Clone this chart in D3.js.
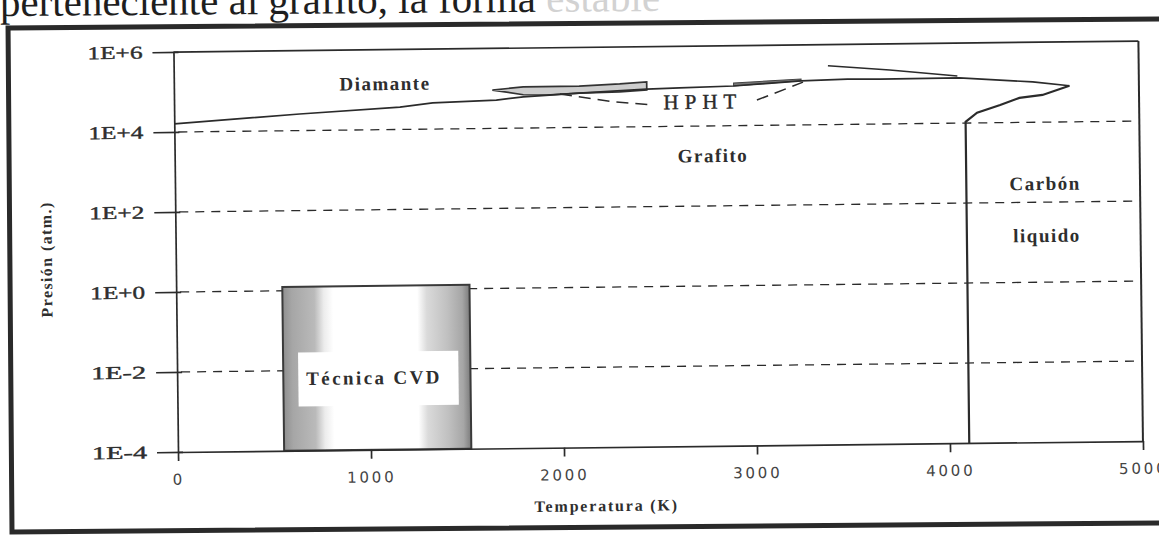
<!DOCTYPE html>
<html>
<head>
<meta charset="utf-8">
<script src="https://cdn.jsdelivr.net/npm/d3@7"></script>
<style>
    body { margin: 0; background: #fff; overflow: hidden; }
</style>
</head>
<body>
<svg id="chart" width="1159" height="538" font-family="'Liberation Serif', 'Times New Roman', serif"></svg>
<script>
// Axis values
const xTicks = [0, 1000, 2000, 3000, 4000, 5000];
const yTicks = [1e-4, 1e-2, 1, 1e2, 1e4, 1e6];
const yTickLabels = ['1E-4', '1E-2', '1E+0', '1E+2', '1E+4', '1E+6'];
const gridLevels = [1e-2, 1, 1e2, 1e4];

// Phase boundaries [T (K), P (atm)]
const equilibrium = [
    [0, 1.6e4], [650, 2.6e4], [1170, 3.6e4], [1340, 4.5e4], [1670, 5.1e4],
    [1810, 6.0e4], [2100, 7.2e4], [2450, 8.7e4], [2620, 9.1e4], [2900, 9.8e4],
    [3250, 1.26e5], [3490, 1.36e5], [3660, 1.33e5], [4070, 1.35e5],
    [4450, 1.02e5], [4640, 8.0e4]
];
const meltLine = [
    [4640, 8.0e4], [4500, 4.8e4], [4380, 4.1e4], [4280, 2.75e4],
    [4160, 1.8e4], [4100, 1.07e4], [4100, 1e-4]
];
const diamondMelt = [[3390, 2.95e5], [3710, 2.24e5], [4060, 1.51e5]];

// HPHT zone
const hphtBand = [
    [1650, 9.1e4], [1810, 1.07e5], [2100, 1.08e5], [2310, 1.19e5], [2450, 1.32e5],
    [2450, 8.3e4], [2310, 7.5e4], [2100, 7.2e4], [1930, 6.6e4], [1810, 6.8e4]
];
const hphtBand2 = [[2900, 1.17e5], [3250, 1.41e5], [3250, 1.26e5], [2900, 9.8e4]];
const hphtLimit = [[2000, 6.9e4], [2275, 4.3e4], [2480, 3.5e4], null, [3020, 4.3e4], [3260, 1.17e5]];

// CVD window
const cvdTemps = [550, 1520];
const cvdPressures = [1e-4, 1.25];

const regionLabels = [
    { text: 'Diamante', t: 1094, p: 1.25e5 },
    { text: 'Grafito', t: 2789, p: 1.6e3 },
    { text: 'Carbón', t: 4508, p: 2.6e2 },
    { text: 'liquido', t: 4515, p: 1.3e1 }
];

const svg = d3.select('#chart');
const ink = '#2b2b2b';

// Scanned page: cropped text line and frame (slightly tilted)
const page = svg.append('g').attr('transform', 'rotate(-0.45,13,531)');
page.append('text')
    .attr('x', 4).attr('y', 16)
    .attr('font-size', '41px')
    .attr('fill', '#1e1e1e')
    .html('perteneciente al grafito, la forma <tspan fill="#d2d2d2">estable</tspan>');
page.append('rect')
    .attr('x', 12).attr('y', 28)
    .attr('width', 1200).attr('height', 504)
    .attr('fill', 'none')
    .attr('stroke', '#2a2a2a')
    .attr('stroke-width', 5);

const root = svg.append('g').attr('transform', 'rotate(-0.65,178,452)');

const x = d3.scaleLinear().domain([0, 5000]).range([178, 1143]);
const y = d3.scaleLog().domain([1e-4, 1e6]).range([452, 52]);

// Dashed grid
root.append('g').selectAll('line')
    .data(gridLevels)
    .enter().append('line')
    .attr('x1', x(0) + 4).attr('x2', x(5000) - 8)
    .attr('y1', d => y(d)).attr('y2', d => y(d))
    .attr('stroke', ink)
    .attr('stroke-width', 1.3)
    .attr('stroke-dasharray', '9,7');

// CVD box
const defs = svg.append('defs');
const grad = defs.append('linearGradient').attr('id', 'cvdGrad');
[[0, '#8f8f8f'], [0.05, '#a6a6a6'], [0.17, '#bababa'], [0.22, '#ececec'], [0.27, '#fff'],
 [0.72, '#fff'], [0.77, '#dadada'], [0.88, '#c0c0c0'], [0.96, '#a6a6a6'], [1, '#7c7c7c']]
    .forEach(s => grad.append('stop').attr('offset', s[0]).attr('stop-color', s[1]));

const cx0 = x(cvdTemps[0]), cx1 = x(cvdTemps[1]);
root.append('rect')
    .attr('x', cx0)
    .attr('y', y(cvdPressures[1]))
    .attr('width', cx1 - cx0)
    .attr('height', y(cvdPressures[0]) - y(cvdPressures[1]))
    .attr('fill', 'url(#cvdGrad)')
    .attr('stroke', '#3a3a3a')
    .attr('stroke-width', 2);

const labelBox = root.append('rect').attr('fill', '#fff');
const cvdLabel = root.append('text')
    .attr('x', x(1020)).attr('y', y(5.6e-3))
    .attr('text-anchor', 'middle')
    .attr('dominant-baseline', 'middle')
    .attr('font-size', '19px')
    .attr('font-weight', 'bold')
    .attr('letter-spacing', '2.4px')
    .attr('fill', '#2e2e2e')
    .text('Técnica CVD');
const bb = cvdLabel.node().getBBox();
labelBox
    .attr('x', cx0 + 15).attr('y', bb.y + bb.height / 2 - 26)
    .attr('width', cx1 - cx0 - 27).attr('height', 54);

// Axes
const yAxis = root.append('g')
    .attr('transform', `translate(${x(0)},0)`)
    .call(d3.axisLeft(y)
        .tickValues(yTicks)
        .tickFormat((d, i) => yTickLabels[i])
        .tickSizeInner(21)
        .tickSizeOuter(0)
        .tickPadding(10));
yAxis.selectAll('.tick line').attr('x1', 5);
yAxis.selectAll('text')
    .style('font-family', "'Liberation Serif', serif")
    .style('font-size', '18px')
    .attr('textLength', 55)
    .attr('lengthAdjust', 'spacingAndGlyphs')
    .attr('fill', '#2e2e2e')
    .attr('stroke', '#2e2e2e')
    .attr('stroke-width', 0.4);

const xAxis = root.append('g')
    .attr('transform', `translate(0,${y(1e-4)})`)
    .call(d3.axisBottom(x)
        .tickValues(xTicks)
        .tickFormat(d3.format('d'))
        .tickSizeInner(9)
        .tickSizeOuter(0)
        .tickPadding(13));
xAxis.selectAll('text')
    .style('font-family', "'DejaVu Sans', Verdana, sans-serif")
    .style('font-size', '15px')
    .style('letter-spacing', '2.8px')
    .attr('fill', '#444');

root.selectAll('.domain, .tick line').attr('stroke', ink).attr('stroke-width', 1.7);

// Plot box top and right
root.append('line')
    .attr('x1', x(0)).attr('x2', x(5000))
    .attr('y1', y(1e6)).attr('y2', y(1e6))
    .attr('stroke', ink).attr('stroke-width', 1.7);
root.append('line')
    .attr('x1', x(5000)).attr('x2', x(5000))
    .attr('y1', y(1e6)).attr('y2', y(1e-4))
    .attr('stroke', ink).attr('stroke-width', 2);

// Phase lines
const line = d3.line()
    .defined(d => d !== null)
    .x(d => x(d[0]))
    .y(d => y(d[1]));

root.append('path')
    .datum(hphtBand)
    .attr('d', d => line(d) + 'Z')
    .attr('fill', '#cdcdcd')
    .attr('stroke', '#333')
    .attr('stroke-width', 1.7);
root.append('path')
    .datum(hphtBand2)
    .attr('d', d => line(d) + 'Z')
    .attr('fill', '#777')
    .attr('stroke', '#444')
    .attr('stroke-width', 1);

[[equilibrium, 1.7], [meltLine, 2.2], [diamondMelt, 1.5]].forEach(([pts, w]) => {
    root.append('path')
        .datum(pts)
        .attr('d', line)
        .attr('fill', 'none')
        .attr('stroke', ink)
        .attr('stroke-width', w);
});
root.append('path')
    .datum(hphtLimit)
    .attr('d', line)
    .attr('fill', 'none')
    .attr('stroke', ink)
    .attr('stroke-width', 1.5)
    .attr('stroke-dasharray', '12,7');

root.append('text')
    .attr('x', x(2740)).attr('y', y(3.55e4))
    .attr('text-anchor', 'middle')
    .attr('dominant-baseline', 'middle')
    .attr('font-size', '21px')
    .attr('letter-spacing', '6px')
    .attr('fill', '#2a2a2a')
    .attr('stroke', '#2a2a2a')
    .attr('stroke-width', 0.4)
    .text('HPHT');

// Region names
root.append('g').selectAll('text')
    .data(regionLabels)
    .enter().append('text')
    .attr('x', d => x(d.t)).attr('y', d => y(d.p))
    .attr('text-anchor', 'middle')
    .attr('dominant-baseline', 'middle')
    .attr('font-size', '19px')
    .attr('font-weight', 'bold')
    .attr('letter-spacing', '1.5px')
    .attr('fill', '#2e2e2e')
    .text(d => d.text);

// Axis titles
root.append('text')
    .attr('transform', 'translate(54,258) rotate(-90)')
    .attr('text-anchor', 'middle')
    .attr('font-size', '16px')
    .attr('font-weight', 'bold')
    .attr('letter-spacing', '1.4px')
    .attr('fill', '#2e2e2e')
    .text('Presión (atm.)');
root.append('text')
    .attr('x', 606).attr('y', 516)
    .attr('text-anchor', 'middle')
    .attr('font-size', '16px')
    .attr('font-weight', 'bold')
    .attr('letter-spacing', '1.8px')
    .attr('fill', '#2e2e2e')
    .text('Temperatura (K)');
</script>
</body>
</html>
